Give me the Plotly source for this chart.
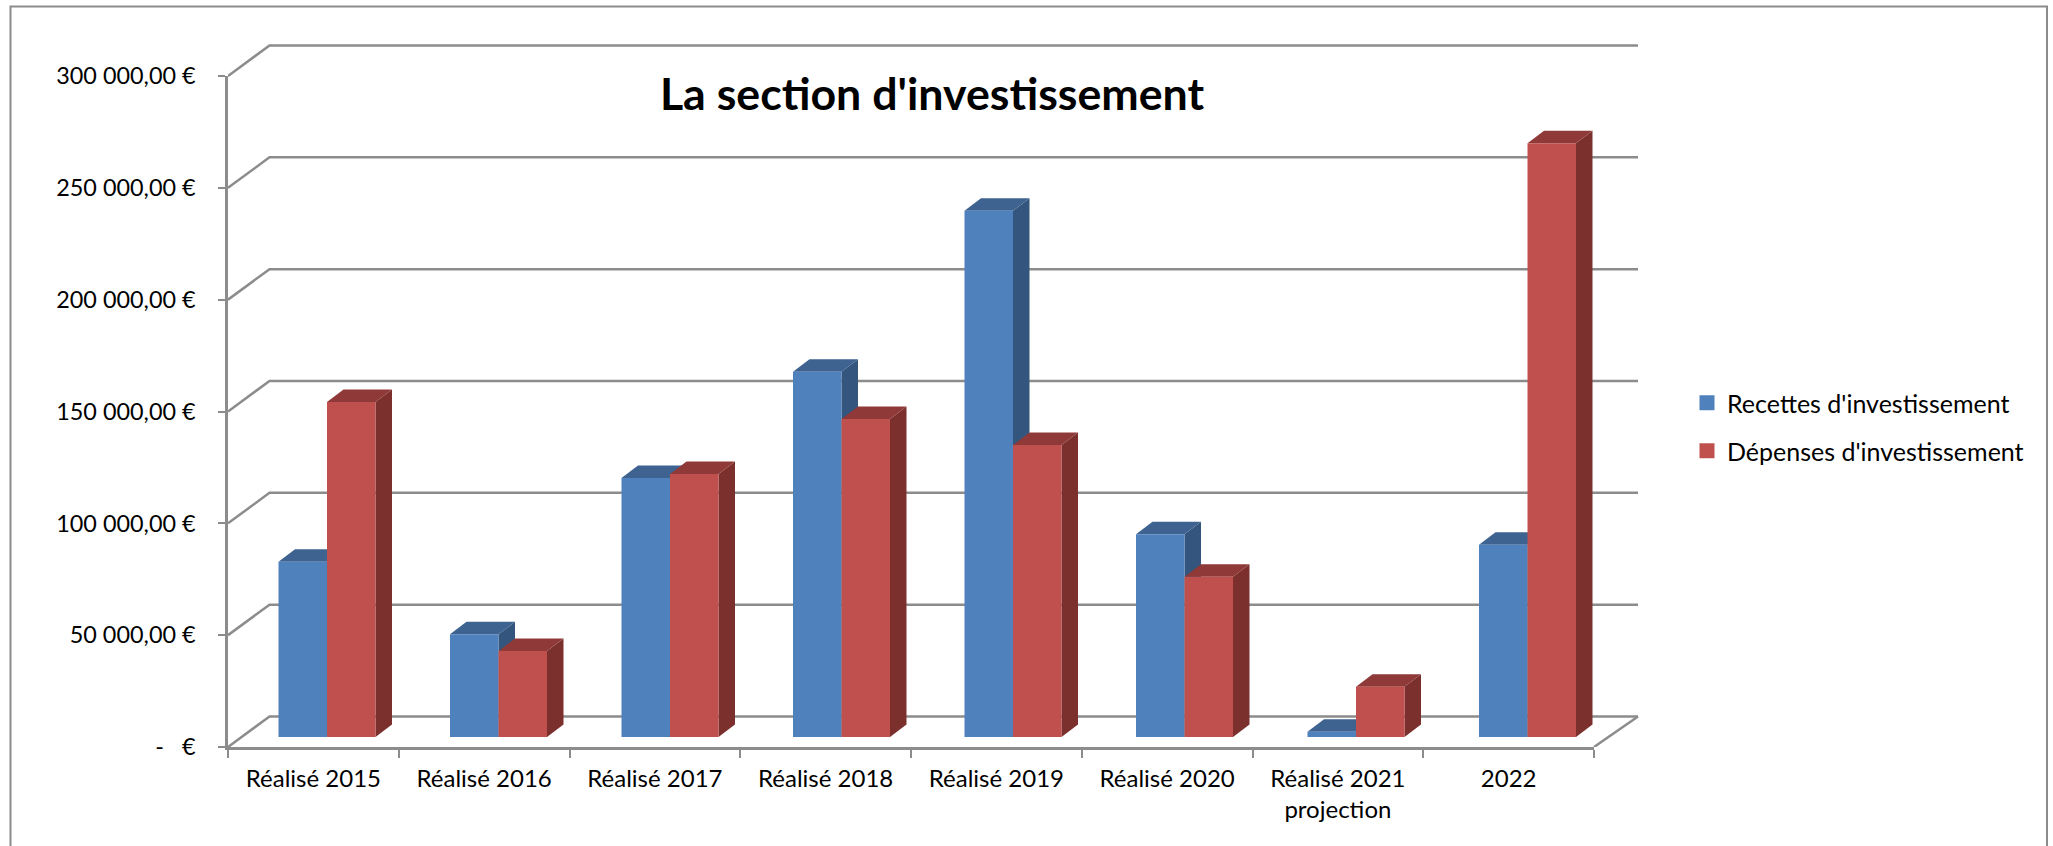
import plotly.graph_objects as go

categories = ["Réalisé 2015", "Réalisé 2016", "Réalisé 2017", "Réalisé 2018", "Réalisé 2019",
              "Réalisé 2020", "Réalisé 2021<br>projection", "2022"]
recettes = [78400, 45900, 115800, 163300, 235300, 90700, 2400, 85900]
depenses = [149800, 38460, 117600, 142200, 130500, 71700, 22500, 265500]
y_ticks = [0, 50000, 100000, 150000, 200000, 250000, 300000]
y_labels = ["-   € ", "50 000,00 € ", "100 000,00 € ", "150 000,00 € ", "200 000,00 € ", "250 000,00 € ", "300 000,00 € "]
BLUE, BLUE_TOP, BLUE_SIDE = "#4f81bd", "#3e6390", "#34557d"
RED, RED_TOP, RED_SIDE = "#c0504d", "#8f3a38", "#7c302e"
GREY = "#8c8c8c"
FONT = "Lato"

# pixel geometry of the oblique projection
W, H = 2053, 846
L, R, T, B = 228, 1640, 40, 747      # outer area: back wall and depth faces
FRONT_R, FRONT_T = 1594, 76          # front plane: axes and front faces
n = len(categories)
ux = n / (FRONT_R - L)
uy = y_ticks[-1] / (B - FRONT_T)
x_outer = [0, (R - L) * ux]
y_outer = [0, (B - T) * uy]
back_dx, back_dy = 41.5 * ux, 30.5 * uy
end_x = (1638 - L) * ux
base = 10 * uy
depth_x, depth_y = 16.5 * ux, 12.5 * uy
half = 48.5 * ux
boundary = [(99 + 171.5 * i) * ux for i in range(n)]

fig = go.Figure()
common = dict(hoverinfo="skip", showlegend=False)

# back wall grid lines
gx, gy = [], []
for v in y_ticks:
    gx += [0, back_dx, end_x, None]
    gy += [v, v + back_dy, v + back_dy, None]
gx += [n, end_x]
gy += [0, back_dy]
fig.add_trace(go.Scatter(x=gx, y=gy, mode="lines", line=dict(color=GREY, width=2.5), **common))


def faces(values, lefts):
    sx, sy, tx, ty = [], [], [], []
    for xl, v in zip(lefts, values):
        xr = xl + half
        top = base + v
        sx += [xr, xr + depth_x, xr + depth_x, xr, xr, None]
        sy += [base, base + depth_y, top + depth_y, top, base, None]
        tx += [xl, xl + depth_x, xr + depth_x, xr, xl, None]
        ty += [top, top + depth_y, top + depth_y, top, top, None]
    return sx, sy, tx, ty


for values, lefts, side_c, top_c in [
    (recettes, [b - half for b in boundary], BLUE_SIDE, BLUE_TOP),
    (depenses, boundary, RED_SIDE, RED_TOP),
]:
    sx, sy, tx, ty = faces(values, lefts)
    fig.add_trace(go.Scatter(x=sx, y=sy, mode="lines", fill="toself", fillcolor=side_c, line=dict(width=0), **common))
    fig.add_trace(go.Scatter(x=tx, y=ty, mode="lines", fill="toself", fillcolor=top_c, line=dict(width=0), **common))

# carries the category labels on the outer x axis
fig.add_trace(go.Scatter(x=[i + 0.5 for i in range(n)], y=[0] * n, mode="markers",
                         marker=dict(opacity=0), **common))

# front faces on the front-plane axes, so they sit above the side faces
fig.add_trace(go.Bar(x=[b - half / 2 for b in boundary], y=recettes, base=base, width=half,
                     marker=dict(color=BLUE, line=dict(width=0)), xaxis="x2", yaxis="y2",
                     name="Recettes d'investissement", legendgroup="r", showlegend=False, hoverinfo="skip"))
fig.add_trace(go.Bar(x=[b + half / 2 for b in boundary], y=depenses, base=base, width=half,
                     marker=dict(color=RED, line=dict(width=0)), xaxis="x2", yaxis="y2",
                     name="Dépenses d'investissement", legendgroup="d", showlegend=False, hoverinfo="skip"))

# legend keys
fig.add_trace(go.Scatter(x=[None], y=[None], mode="markers", name="Recettes d'investissement", legendgroup="r",
                         marker=dict(symbol="square", size=15, color=BLUE)))
fig.add_trace(go.Scatter(x=[None], y=[None], mode="markers", name="Dépenses d'investissement", legendgroup="d",
                         marker=dict(symbol="square", size=15, color=RED)))


def px(xp):
    return (xp - L) / (R - L)


def py(yp):
    return (B - yp) / (B - T)


fig.update_layout(
    width=W, height=H, autosize=False,
    margin=dict(l=L, r=W - R, t=T, b=H - B, pad=0),
    paper_bgcolor="white", plot_bgcolor="rgba(0,0,0,0)",
    barmode="overlay",
    font=dict(family=FONT, size=23, color="#000000"),
    title=dict(text="<b>La section d'investissement</b>", font=dict(family=FONT, size=44.7, color="#000000"),
               xref="container", yref="container", x=932 / W, y=1 - 94 / H, xanchor="center", yanchor="middle"),
    xaxis=dict(range=x_outer, domain=[0, 1], tickmode="array", tickvals=[i + 0.5 for i in range(n)], ticktext=categories,
               ticks="", showgrid=False, zeroline=False, showline=False,
               ticklabelstandoff=15, tickfont=dict(family=FONT, size=24)),
    yaxis=dict(range=y_outer, domain=[0, 1], visible=False),
    xaxis2=dict(range=[0, n], domain=[0, px(FRONT_R)], anchor="y2", side="bottom", tickmode="array",
                tickvals=list(range(n + 1)), ticktext=[""] * (n + 1), ticks="outside", ticklen=8, tickwidth=2,
                tickcolor=GREY, showgrid=False, zeroline=False, showline=True, linecolor=GREY, linewidth=2.5),
    yaxis2=dict(range=[0, y_ticks[-1]], domain=[0, py(FRONT_T)], anchor="x2", side="left", tickmode="array",
                tickvals=y_ticks, ticktext=y_labels, ticks="outside", ticklen=7, tickwidth=2, tickcolor=GREY,
                showgrid=False, zeroline=False, showline=True, linecolor=GREY, linewidth=2.5,
                ticklabelstandoff=12, tickfont=dict(family=FONT, size=23.4)),
    legend=dict(x=px(1687), y=py(380), xanchor="left", yanchor="top", bgcolor="rgba(0,0,0,0)",
                tracegroupgap=12.5, font=dict(family=FONT, size=25), itemclick=False, itemdoubleclick=False),
    shapes=[dict(type="path", xref="paper", yref="paper",
                 path=f"M {px(10.5)} {py(850)} L {px(10.5)} {py(6.5)} L {px(2047)} {py(6.5)} L {px(2047)} {py(850)}",
                 line=dict(color="#8c8c8c", width=2), layer="below")],
)

fig.write_html("out.html", config=dict(displayModeBar=False),
               post_script="document.body.style.margin='0';document.body.style.overflow='hidden';")
